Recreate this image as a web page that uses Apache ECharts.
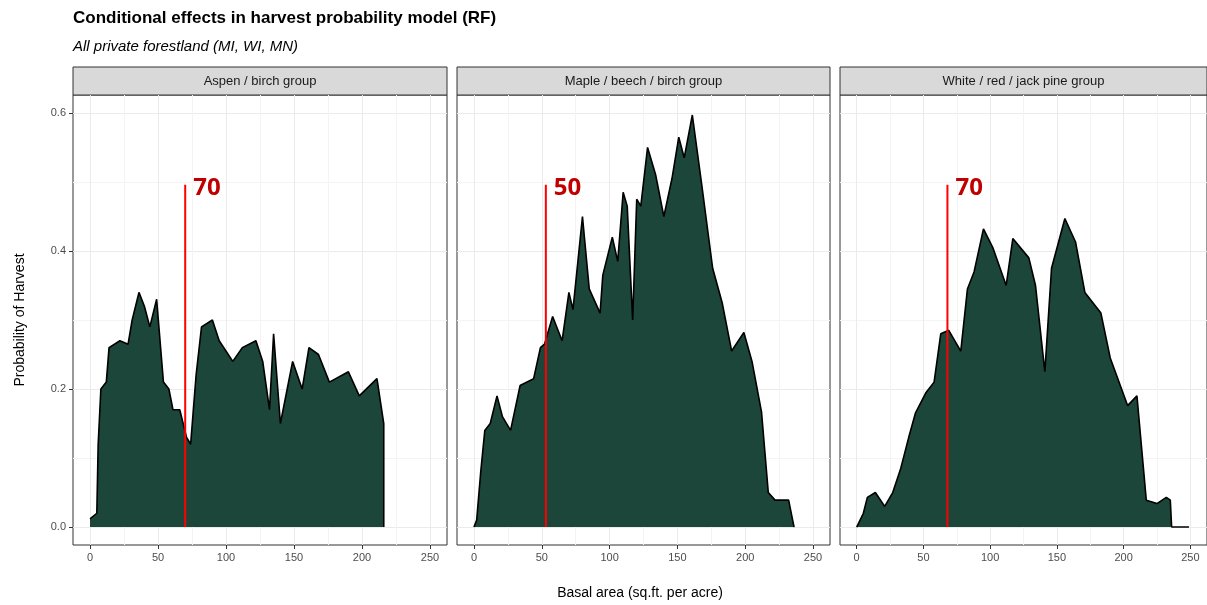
<!DOCTYPE html>
<html>
<head>
<meta charset="utf-8">
<script src="https://cdn.jsdelivr.net/npm/echarts@6/dist/echarts.min.js"></script>
<style>html,body{margin:0;padding:0;background:#fff}#c{width:1207px;height:605px}</style>
</head>
<body>
<div id="c"></div>
<script>
// facet names and threshold markers
var panels = ['Aspen / birch group', 'Maple / beech / birch group', 'White / red / jack pine group'];
var thresholds = [70, 53, 68];
var thresholdLabels = ['70', '50', '70'];

// basal area (x) and probability (y) per group
var aspenX = [0, 5, 6, 8, 12, 14, 22, 28, 31, 36, 40, 44, 49, 54, 58, 61, 66, 71, 74, 78, 82, 90, 95, 105, 112, 122, 127, 132, 135, 140, 149, 156, 161, 168, 176, 190, 198, 211, 216, 216];
var aspenY = [0.012, 0.02, 0.12, 0.2, 0.21, 0.26, 0.27, 0.265, 0.30, 0.34, 0.32, 0.29, 0.33, 0.21, 0.20, 0.17, 0.17, 0.13, 0.12, 0.22, 0.29, 0.30, 0.27, 0.24, 0.26, 0.27, 0.24, 0.17, 0.28, 0.15, 0.24, 0.20, 0.26, 0.25, 0.21, 0.225, 0.19, 0.215, 0.15, 0];
var mapleX = [0, 2, 5, 8, 12, 17, 21, 27, 34, 44, 49, 52, 58, 65, 70, 73, 80, 85, 93, 95, 102, 106, 110, 113, 117, 120, 123, 128, 134, 140, 146, 151, 155, 161, 168, 176, 183, 190, 199, 205, 212, 217, 222, 232, 236];
var mapleY = [0, 0.01, 0.08, 0.14, 0.15, 0.19, 0.16, 0.14, 0.205, 0.215, 0.26, 0.265, 0.305, 0.27, 0.34, 0.315, 0.45, 0.345, 0.31, 0.365, 0.42, 0.385, 0.485, 0.465, 0.30, 0.475, 0.465, 0.55, 0.51, 0.45, 0.505, 0.565, 0.535, 0.597, 0.495, 0.375, 0.325, 0.255, 0.282, 0.24, 0.167, 0.05, 0.039, 0.039, 0];
var pineX = [0, 5, 8, 14, 21, 27, 33, 39, 44, 52, 58, 63, 69, 78, 83, 88, 95, 102, 112, 117, 129, 134, 141, 146, 156, 164, 171, 183, 190, 203, 210, 217, 225, 232, 235, 236, 249];
var pineY = [0, 0.02, 0.043, 0.05, 0.03, 0.05, 0.085, 0.13, 0.165, 0.195, 0.21, 0.28, 0.285, 0.255, 0.345, 0.37, 0.432, 0.405, 0.35, 0.418, 0.39, 0.35, 0.225, 0.375, 0.447, 0.413, 0.34, 0.31, 0.245, 0.176, 0.19, 0.039, 0.034, 0.043, 0.039, 0, 0];

var xTicks = [0, 50, 100, 150, 200, 250];
var xMinor = [25, 75, 125, 175, 225];
var yTicks = [0, 0.2, 0.4, 0.6];
var yMinor = [0.1, 0.3, 0.5];

function zip(xs, ys) {
    return xs.map(function (x, i) { return [x, ys[i]]; });
}
var seriesData = [zip(aspenX, aspenY), zip(mapleX, mapleY), zip(pineX, pineY)];

var lefts = [73, 457, 840];
var widths = [374, 373, 367];
var grid = [], xAxis = [], yAxis = [], series = [], graphic = [];
var gridLine = { show: true, lineStyle: { color: '#ebebeb', width: 1 } };
var minorLine = { show: true, lineStyle: { color: '#f4f4f4', width: 1 } };

panels.forEach(function (name, i) {
    grid.push({ left: lefts[i], width: widths[i], top: 95, height: 450, show: true, borderColor: '#333', borderWidth: 1, backgroundColor: 'transparent' });
    xAxis.push({
        type: 'value', gridIndex: i, min: -12.5, max: 262.5, position: 'bottom',
        axisLine: { show: false, onZero: false },
        axisTick: { show: true, inside: false, customValues: xTicks, length: 4, lineStyle: { color: '#333' } },
        axisLabel: { customValues: xTicks, color: '#4d4d4d', fontSize: 11, fontFamily: 'Liberation Sans', margin: 7 },
        splitLine: gridLine
    });
    xAxis.push({
        type: 'value', gridIndex: i, min: -12.5, max: 262.5, position: 'top',
        axisLine: { show: false, onZero: false },
        axisTick: { show: false, customValues: xMinor },
        axisLabel: { show: false, customValues: xMinor },
        splitLine: minorLine
    });
    yAxis.push({
        type: 'value', gridIndex: i, min: -0.026, max: 0.626, position: 'left',
        axisLine: { show: false, onZero: false },
        axisTick: { show: i === 0, inside: false, customValues: yTicks, length: 4, lineStyle: { color: '#333' } },
        axisLabel: { show: i === 0, customValues: yTicks, color: '#4d4d4d', fontSize: 11, fontFamily: 'Liberation Sans', margin: 7,
            formatter: function (v) { return v.toFixed(1); } },
        splitLine: gridLine
    });
    yAxis.push({
        type: 'value', gridIndex: i, min: -0.026, max: 0.626, position: 'right',
        axisLine: { show: false, onZero: false },
        axisTick: { show: false, customValues: yMinor },
        axisLabel: { show: false, customValues: yMinor },
        splitLine: minorLine
    });
    series.push({
        type: 'line', xAxisIndex: i * 2, yAxisIndex: i * 2, data: seriesData[i],
        symbol: 'none', z: 3,
        lineStyle: { color: '#000', width: 1.6 },
        areaStyle: { color: '#1b4639', opacity: 1, origin: 0 }
    });
    series.push({
        type: 'line', xAxisIndex: i * 2, yAxisIndex: i * 2,
        data: [[thresholds[i], 0], [thresholds[i], 0.496]],
        symbol: 'none', z: 4,
        lineStyle: { color: '#ff0000', width: 2 },
        endLabel: { show: true, formatter: thresholdLabels[i], color: '#c00000', fontSize: 24, fontWeight: 'bold',
            fontFamily: 'Open Sans', distance: 8, offset: [0, 3] }
    });
    graphic.push({
        type: 'rect', shape: { x: lefts[i], y: 67, width: widths[i], height: 28 },
        style: { fill: '#d9d9d9', stroke: '#333', lineWidth: 1 }
    });
    graphic.push({
        type: 'text', x: lefts[i] + widths[i] / 2, y: 81,
        style: { text: name, fill: '#1a1a1a', font: '13px "Liberation Sans"', align: 'center', verticalAlign: 'middle' }
    });
});

graphic.push(
    { type: 'text', x: 73, y: 18, style: { text: 'Conditional effects in harvest probability model (RF)', fill: '#000', font: 'bold 17px "Liberation Sans"', verticalAlign: 'middle' } },
    { type: 'text', x: 73, y: 47, style: { text: 'All private forestland (MI, WI, MN)', fill: '#000', font: 'italic 15px "Liberation Sans"', verticalAlign: 'middle' } },
    { type: 'text', x: 640, y: 593, style: { text: 'Basal area (sq.ft. per acre)', fill: '#000', font: '14px "Liberation Sans"', align: 'center', verticalAlign: 'middle' } },
    { type: 'text', x: 20, y: 320, rotation: Math.PI / 2, style: { text: 'Probability of Harvest', fill: '#000', font: '14px "Liberation Sans"', align: 'center', verticalAlign: 'middle' } }
);

var chart = echarts.init(document.getElementById('c'));
chart.setOption({
    animation: false,
    grid: grid, xAxis: xAxis, yAxis: yAxis, series: series, graphic: graphic
});
</script>
</body>
</html>
